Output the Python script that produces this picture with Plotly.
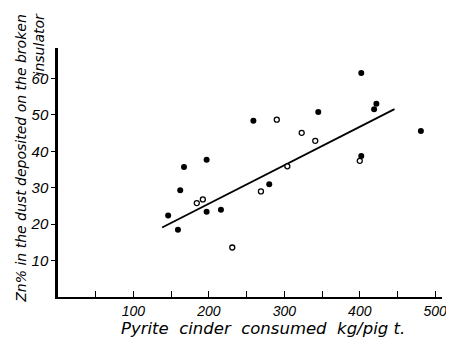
import plotly.graph_objects as go

# Data
filled_x = [146, 159, 162, 167, 197, 197, 216, 280, 259, 345, 402, 422, 419, 481, 402]
filled_y = [22.4, 18.5, 29.3, 35.7, 37.7, 23.4, 24.0, 31.0, 48.4, 50.8, 61.5, 53.1, 51.6, 45.6, 38.7]
open_x = [184, 192, 231, 269, 304, 290, 323, 341, 400]
open_y = [25.8, 26.8, 13.6, 29.0, 35.9, 48.7, 45.1, 42.9, 37.4]
fit_x = [138, 446]
fit_y = [19.1, 51.6]

x_tick_vals = [50, 100, 150, 200, 250, 300, 350, 400, 450, 500]
x_tick_text = ["", "100", "", "200", "", "300", "", "400", "", "500"]
y_tick_vals = [10, 20, 30, 40, 50, 60]
y_tick_text = ["10", "20", "30", "40", "50", "60"]

y_title = "Zn% in the dust deposited on the broken<br>insulator"
x_title = "Pyrite  cinder  consumed  kg/pig t."

FONT = "Liberation Sans"
TFONT = "DejaVu Sans"

fig = go.Figure()
fig.add_trace(go.Scatter(x=fit_x, y=fit_y, mode="lines",
                         line=dict(color="black", width=1.8), showlegend=False))
fig.add_trace(go.Scatter(x=filled_x, y=filled_y, mode="markers",
                         marker=dict(color="black", size=6, line=dict(width=0)),
                         showlegend=False))
fig.add_trace(go.Scatter(x=open_x, y=open_y, mode="markers",
                         marker=dict(color="white", size=5, symbol="circle",
                                     line=dict(color="black", width=1.3)),
                         showlegend=False))

fig.update_layout(
    width=446, height=336,
    margin=dict(l=50, r=7, t=40, b=47),
    paper_bgcolor="white", plot_bgcolor="white",
    font=dict(family=FONT, color="black", style="italic", size=14),
    xaxis=dict(range=[0, 509], showgrid=False, zeroline=False,
               showline=True, linecolor="black", linewidth=2,
               ticks="inside", ticklen=6, tickwidth=1.2, tickcolor="black",
               tickvals=x_tick_vals, ticktext=x_tick_text,
               tickfont=dict(family=FONT, size=14, style="italic")),
    yaxis=dict(range=[0, 68.4], showgrid=False, zeroline=False,
               showline=True, linecolor="black", linewidth=2.5,
               ticks="outside", ticklen=4, tickwidth=1.2, tickcolor="black",
               tickvals=y_tick_vals, ticktext=y_tick_text,
               tickfont=dict(family=FONT, size=15, style="italic")),
    annotations=[
        dict(text=y_title, textangle=-90, xref="paper", yref="paper",
             x=-0.075, y=0.56, xanchor="center", yanchor="middle",
             align="right", showarrow=False,
             font=dict(family=TFONT, size=14, style="italic")),
        dict(text=x_title, xref="paper", yref="paper",
             x=0.535, y=-0.128, xanchor="center", yanchor="middle",
             showarrow=False,
             font=dict(family=TFONT, size=16.5, style="italic")),
    ],
)

fig.write_html("out.html")
